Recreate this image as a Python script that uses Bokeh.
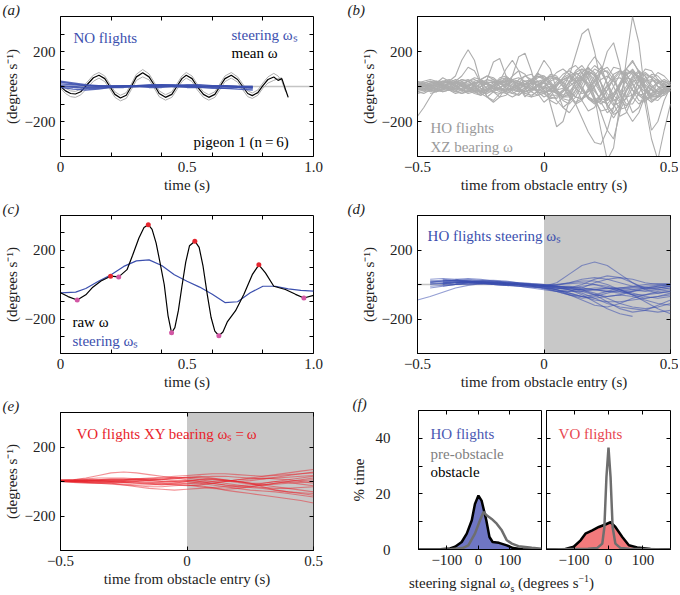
import numpy as np
from bokeh.plotting import figure
from bokeh.models import (Range1d, FixedTicker, Label, BoxAnnotation, Span, Div,
                          LinearAxis, CustomJSTickFormatter)
from bokeh.layouts import row, column
from bokeh.embed import file_html
from bokeh.resources import INLINE

N = np.nan
FONT = "Liberation Serif"
FS = "15px"

# ---------------- (a) NO flights, pigeon 1 ----------------
A_T = [0, 0.02, 0.04, 0.059, 0.08, 0.105, 0.13, 0.152, 0.175, 0.195,
       0.215, 0.237, 0.26, 0.28, 0.30, 0.325, 0.35, 0.37, 0.39, 0.415,
       0.44, 0.46, 0.48, 0.497, 0.52, 0.54, 0.565, 0.586, 0.61, 0.63,
       0.65, 0.675, 0.70, 0.72, 0.74, 0.758, 0.78, 0.80, 0.82, 0.843,
       0.86, 0.875, 0.89, 0.90]
A_MEAN = [0, -25, -40, -43, -30, 10, 50, 64, 45, 0,
          -45, -66, -50, 0, 55, 78, 55, 10, -40, -62,
          -45, 0, 45, 64, 45, 0, -45, -62, -45, 0,
          45, 64, 40, 0, -40, -52, -35, 5, 40, 54,
          35, 45, -20, -62]
A_UPPER = [10, -10, -25, -28, -15, 25, 65, 80, 60, 15,
           -30, -50, -35, 15, 70, 97, 72, 25, -25, -47,
           -30, 15, 60, 80, 60, 15, -30, -47, -30, 15,
           60, 80, 55, 15, -25, -37, -20, 20, 55, 75,
           60, 30, -30, N]
A_LOWER = [-10, -40, -58, -62, -48, -10, 30, 48, 28, -15,
           -62, -82, -68, -18, 35, 55, 38, -8, -58, -78,
           -62, -18, 28, 48, 28, -18, -62, -78, -62, -18,
           28, 48, 25, -18, -58, -68, -50, -10, 20, 35,
           45, 50, N, N]
A_BLUE_T = [0, 0.05, 0.1, 0.15, 0.2, 0.25, 0.3, 0.35, 0.4, 0.45, 0.5, 0.55, 0.6, 0.65, 0.7, 0.76]
A_BLUE = [
    [25, 15, 5, 0, -5, -5, 0, 5, 5, 0, -5, -5, 0, 5, 0, -5],
    [15, 10, 5, 5, 5, 5, 5, 5, 10, 10, 5, 5, 0, 0, 0, 0],
    [-5, -15, -20, -15, -5, 0, 5, 10, 10, 5, 0, -5, -10, -10, -5, -5],
    [5, 0, -5, -5, 0, 5, 5, 0, 0, 5, 10, 10, 5, 0, -5, -10],
    [30, 20, 10, 5, 0, 0, 0, 5, 5, 0, 0, 0, 5, 5, 0, 0],
    [0, -5, -10, -10, -5, 0, 0, -5, -5, 0, 5, 0, -5, -10, -15, -20],
]

# ---------------- (b) HO flights XZ bearing ----------------
B_T = [-0.5, -0.475, -0.45, -0.425, -0.4, -0.375, -0.35, -0.325, -0.3, -0.275,
       -0.25, -0.225, -0.2, -0.175, -0.15, -0.125, -0.1, -0.075, -0.05, -0.025,
       0, 0.025, 0.05, 0.075, 0.1, 0.125, 0.15, 0.175, 0.2, 0.225,
       0.25, 0.275, 0.3, 0.325, 0.35, 0.375, 0.4, 0.425, 0.45, 0.475, 0.5]
B_LINES = [
    [0, 10, 20, 15, 0, -15, -20, -10, 5, 20, 25, 15, 0, -15, -20, -10, 5, 15, 20, 10,
     0, -20, -40, -30, 0, 30, 40, 10, -60, -150, -250, -300, -150, 150, 400, 250, -50, -250, -200, -80, 0],
    [-20, -10, 0, 10, 20, 25, 20, 5, -10, -25, -30, -20, 0, 20, 35, 30, 15, 0, -15, -20,
     -10, 0, -20, -10, 60, 180, 300, 330, 200, 20, -120, -180, -120, -30, 30, 40, 10, -20, -30, -10, 10],
    [-30, -40, -20, 20, 50, 30, 60, 150, 210, 150, 20, -60, -80, -40, 10, 30, 20, 0, -10, -20,
     -30, -20, 10, 50, 70, 40, -20, -70, -90, -50, 0, 40, 50, 20, -20, -50, -40, -10, 20, 30, 10],
    [0, 5, 10, 0, -10, -20, -10, 10, 30, 40, 20, -10, -30, -40, -30, 60, 170, 190, 90, -40,
     -90, -60, 0, 40, 60, 30, -20, -70, -100, -80, -20, 50, 90, 70, 10, -50, -80, -60, -20, 10, 20],
    [20, 15, 0, -20, -30, -20, 0, 20, 30, 10, -40, 40, 140, 160, 60, -30, -50, -20, 10, 30,
     20, -10, -40, -60, -40, 20, 80, 110, 70, -20, -110, -150, -100, -20, 40, 60, 30, -20, -40, -20, 0],
    [-10, 0, 10, 20, 10, -10, -20, -10, 0, 20, 30, 20, 0, -20, -30, -10, 10, 30, 40, 20,
     -30, -80, -100, -60, 10, 80, 100, 50, -60, -250, -420, -350, -100, 100, 150, 80, -20, -80, -60, -20, 0],
    [10, 20, 30, 20, 0, -20, -30, -20, 0, 20, 30, 20, 0, -10, -20, -10, 0, 10, 20, 30,
     40, 20, -20, -50, -30, 20, 60, 80, 40, -30, -80, -60, 0, 60, 100, 50, -100, -300, -420, -250, -100],
    [-5, 0, 5, 10, 5, 0, -10, -15, -10, 0, 10, 20, 25, 20, 10, -10, -30, -20, 30, 80,
     40, -100, -230, -200, -80, 40, 100, 80, 20, -40, -70, -40, 10, 50, 40, 0, -30, -40, -20, 0, 10],
    [0, -10, -20, -10, 0, 15, 25, 20, 0, -20, -25, -10, 10, 25, 20, 0, -20, -30, -15, 10,
     30, 50, 40, 0, -30, -60, -70, -50, 0, 80, 200, 250, 120, -60, -150, -120, -30, 30, 40, 10, -10],
    [-170, -120, -60, -10, 20, 30, 10, -20, -30, -10, 20, 40, 30, 0, -30, -40, -20, 10, 40, 60,
     40, -20, -80, -120, -90, -20, 50, 90, 60, -20, -100, -160, -140, -60, 20, 60, 40, 0, -30, -20, 0],
    [30, 20, 0, -20, -20, 0, 20, 40, 30, 0, -30, -40, -20, 20, 50, 40, 0, -60, -20, 80,
     150, 100, -20, -120, -150, -100, -20, 60, 100, 80, 20, -50, -90, -70, -10, 50, 80, 50, 0, -30, -20],
    [-20, -20, -10, 10, 30, 40, 30, 60, 110, 90, 20, -60, -90, -60, 0, 40, 50, 30, 0, -30,
     -40, -20, 20, 40, 30, -10, -40, -30, 0, 40, 60, 30, -20, -60, -50, -10, 30, 40, 20, 0, -10],
    [10, 0, -10, -20, -30, -20, 0, 30, 40, 20, -10, -30, -30, -10, 20, 60, 90, 70, 20, -30,
     -60, -40, 0, 50, 100, 120, 80, 0, -80, -140, -130, -60, 20, 100, 140, 90, 0, -60, -60, -30, -10],
    [0, 10, 20, 30, 30, 20, 0, -20, -30, -30, -20, 0, 20, 30, 20, 0, -20, -30, -20, 0,
     30, 60, 50, 0, -60, -100, -80, -20, 40, 90, 110, 60, -40, -140, -200, -150, -50, 40, 80, 60, 20],
    [N, N, -40, -30, -10, 10, 20, 10, -10, -30, -40, -20, 10, 40, 50, 30, -10, -40, -50, -30,
     0, 40, 80, 100, 70, 0, -80, -140, -120, -40, 50, 110, 100, 30, -60, -100, -70, -10, 30, 30, 10],
    [-40, -30, -20, 0, 20, 30, 20, 0, -20, -40, -50, -30, 0, 30, 40, 20, -10, -40, -30, 0,
     20, 10, -30, -70, -80, -40, 30, 120, 170, 120, 10, -100, -170, -150, -60, 40, 100, 90, 40, -10, -30],
    [20, 30, 40, 30, 10, -10, -30, -40, -20, 10, 40, 60, 40, 0, -40, -60, -40, 0, 40, 70,
     60, 20, -30, -60, -50, 0, 60, 100, 80, 20, -60, -110, -90, -20, 50, 80, 60, 10, -30, -40, -20],
    [-10, -20, -30, -20, 0, 20, 30, 20, 0, -20, -30, -20, 0, 20, 30, 10, -10, -30, -20, 10,
     40, 60, 50, 20, -30, -100, -180, -260, -320, -330, -250, -120, 0, 80, 90, 40, -20, -50, -40, -10, 10],
    [0, -10, -10, 0, 10, 20, 20, 10, 0, -10, -20, -20, -10, 10, 30, 40, 30, 0, -30, -50,
     -40, -10, 30, 70, 90, 60, 0, -60, -90, -70, -20, 40, 80, 70, 20, -40, -70, -50, -10, 20, 30],
    [10, 10, 0, -10, -20, -20, -10, 10, 30, 50, 40, 10, -30, -60, -50, -10, 40, 60, 40, 0,
     -40, -70, -60, -20, 30, 70, 80, 40, -20, -80, -100, -60, 10, 70, 90, 50, -20, -70, -80, -40, 0],
    [0, -10, -20, -30, -20, 0, 20, 40, 30, 0, -40, -60, -30, 30, 100, 150, 90, -10, -60, -50,
     -10, 30, 50, 30, -20, -60, -70, -30, 30, 80, 90, 40, -40, -100, -100, -40, 30, 70, 60, 20, -10],
    [-20, 0, 20, 30, 20, 0, -20, -40, -30, 0, 40, 60, 50, 20, -10, -20, -10, 10, 20, 10,
     -10, -30, -20, 20, 60, 80, 50, -10, -70, -100, -70, 0, 70, 100, 70, 0, -60, -90, -60, -10, 20],
    [0, 20, 30, 20, 0, -20, -40, -30, 0, 30, 40, 20, -10, -30, -40, -20, 20, 60, 70, 30,
     -20, -60, -70, -30, 30, 90, 120, 70, -10, -90, -150, -120, -40, 40, 80, 60, 0, -50, -60, -30, 0],
    [-10, -20, -10, 10, 30, 30, 10, -20, -40, -30, 0, 30, 40, 20, -10, -40, -50, -20, 30, 60,
     50, 10, -40, -80, -100, -60, 10, 80, 120, 90, 20, -70, -130, -120, -50, 30, 70, 50, 0, -30, -10],
    [20, 0, -20, -30, -10, 20, 40, 30, 0, -30, -50, -30, 10, 50, 60, 30, -10, -50, -60, -20,
     30, 70, 60, 10, -50, -90, -70, -10, 60, 110, 80, 0, -80, -110, -70, 0, 50, 60, 30, 0, -20],
    [5, 10, 10, 5, -5, -10, -10, 0, 10, 20, 20, 10, -10, -20, -20, -10, 10, 30, 30, 10,
     -20, -50, -50, -20, 20, 50, 50, 20, -30, -70, -80, -40, 20, 70, 80, 40, -20, -60, -50, -10, 10],
    [-30, -20, 0, 20, 30, 20, 0, -20, -30, -20, 0, 20, 30, 20, 0, -20, -30, -10, 20, 50,
     60, 30, -20, -60, -60, -20, 40, 80, 70, 20, -40, -80, -60, 0, 60, 90, 60, -10, -60, -50, -20],
    [15, 5, -5, -15, -15, -5, 5, 15, 15, 5, -10, -20, -20, -5, 15, 30, 30, 15, -10, -30,
     -40, -20, 10, 40, 50, 30, -10, -60, -80, -50, 10, 70, 90, 50, -20, -80, -90, -40, 20, 40, 20],
]

# ---------------- (c) raw vs steering ----------------
C_RAW_T = [0, 0.03, 0.066, 0.1, 0.125, 0.16, 0.198, 0.23, 0.263, 0.285,
           0.31, 0.33, 0.347, 0.362, 0.378, 0.393, 0.41, 0.425, 0.439, 0.452,
           0.466, 0.48, 0.495, 0.51, 0.531, 0.548, 0.563, 0.58, 0.595, 0.61,
           0.626, 0.642, 0.66, 0.692, 0.725, 0.758, 0.784, 0.81, 0.843, 0.889,
           0.929, 0.962, 1.0]
C_RAW = [-48, -70, -90, -60, -19, 20, 48, 44, 86, 170,
         270, 330, 347, 320, 240, 130, 0, -180, -280, -250,
         -150, -10, 130, 225, 251, 215, 110, -57, -190, -270,
         -297, -275, -215, -152, -57, 57, 114, 67, -10, -29,
         -57, -78, -63]
C_STEER_T = [0, 0.06, 0.1, 0.15, 0.2, 0.25, 0.3, 0.35, 0.4, 0.45, 0.5,
             0.55, 0.6, 0.65, 0.7, 0.75, 0.8, 0.85, 0.9, 0.95, 1.0]
C_STEER = [-48, -44, -23, 19, 57, 105, 137, 143, 110, 57, 19,
           -15, -57, -105, -100, -48, -10, -10, -25, -34, -38]
C_PEAK_T = [0.198, 0.347, 0.531, 0.784]
C_PEAK = [48, 347, 251, 114]
C_TROUGH_T = [0.066, 0.23, 0.439, 0.626, 0.962]
C_TROUGH = [-90, 44, -280, -297, -78]

# ---------------- (d) HO flights steering ----------------
D_T = [-0.5, -0.45, -0.4, -0.35, -0.3, -0.25, -0.2, -0.15, -0.1, -0.05, 0,
       0.05, 0.1, 0.15, 0.2, 0.25, 0.3, 0.35, 0.4, 0.45, 0.5]
D_LINES = [
    [N, 10, 20, 25, 20, 15, 10, 5, 0, -10, -20, -40, -60, -70, -60, -40, -20, -10, 0, 5, 5],
    [-90, -70, -45, -20, -5, 5, 10, 5, 0, -5, -10, -15, -30, -60, -100, -140, -170, -185, N, N, N],
    [N, N, 20, 25, 30, 25, 15, 10, 5, 0, -10, 10, 60, 110, 130, 110, 60, 10, -30, -50, -40],
    [N, 30, 35, 30, 20, 10, 0, -5, -5, -10, -15, -20, -30, -50, -80, -110, -130, -140, -150, -160, -150],
    [N, N, 0, 10, 15, 15, 10, 5, 0, -5, -5, -10, -10, -20, -30, -40, -50, -40, -30, -20, -10],
    [N, 20, 15, 10, 10, 5, 5, 0, -5, -10, -20, -30, -40, -40, -30, -20, -20, -30, -40, -30, -20],
    [N, N, N, 10, 15, 20, 20, 15, 10, 0, -10, -20, -20, 0, 30, 50, 40, 10, -20, -30, -20],
    [N, -20, -10, 0, 5, 5, 0, -5, -10, -20, -30, -40, -60, -90, -120, -130, -110, -80, -60, -40, -30],
    [N, N, 10, 15, 20, 25, 25, 20, 10, 5, 0, -10, -20, -30, -50, -80, -110, -130, -140, -130, -110],
    [N, 5, 10, 15, 15, 10, 5, 0, 0, -5, -10, -5, 10, 30, 40, 30, 10, -10, -20, -20, -10],
    [N, N, 25, 20, 15, 10, 5, 5, 0, -5, -15, -30, -50, -70, -80, -70, -60, -70, -90, -110, -120],
    [N, 10, 5, 0, 0, 5, 10, 10, 5, 0, -5, -10, -20, -40, -60, -70, -60, -40, -20, -10, 0],
    [N, N, N, 30, 35, 30, 20, 10, 0, -5, -10, -20, -30, -30, -20, -20, -30, -50, -70, -80, -70],
    [N, 15, 20, 20, 15, 10, 5, 0, -10, -15, -20, -25, -20, -10, 0, -10, -30, -60, -100, -140, -170],
    [N, N, 5, 10, 15, 15, 10, 5, 5, 0, -5, -10, -15, -30, -60, -100, -140, -160, -150, -120, -90],
    [N, -10, -5, 0, 10, 15, 15, 10, 5, 0, -5, -15, -25, -30, -30, -25, -20, -15, -10, -5, 0],
    [N, N, 15, 20, 20, 15, 10, 5, 0, -10, -25, -40, -40, -20, 10, 30, 40, 30, 10, 0, 0],
    [N, 0, 5, 10, 10, 5, 0, -5, -10, -15, -20, -30, -50, -70, -90, -100, -100, -90, -80, -70, -60],
    [N, N, 30, 25, 20, 20, 20, 15, 10, 5, 0, 0, 5, 10, 0, -20, -40, -60, -60, -50, -40],
    [N, N, N, 5, 10, 10, 5, 0, 0, -5, -10, -10, -15, -20, -30, -40, -40, -30, -20, -10, -5],
    [N, 20, 25, 25, 20, 15, 10, 5, 0, -5, -5, 0, 10, 20, 20, 0, -30, -60, -80, -70, -50],
    [N, N, -10, 0, 10, 15, 15, 10, 5, 0, -10, -30, -60, -80, -70, -50, -30, -20, -20, -20, -10],
]

# ---------------- (e) VO flights XY bearing ----------------
E_T = D_T
E_LINES = [
    [5, 10, 20, 35, 50, 55, 50, 40, 30, 20, 10, 0, -10, -20, -30, -30, -20, -10, 0, 10, 20],
    [0, 0, -5, -10, -15, -20, -25, -30, -30, -25, -20, -25, -35, -50, -60, -70, -80, -90, -100, -110, -125],
    [5, 5, 5, 5, 10, 10, 15, 20, 25, 30, 35, 40, 45, 45, 40, 35, 30, 40, 50, 60, 70],
    [0, -5, -5, -10, -10, -15, -20, -20, -15, -10, 0, 10, 15, 10, 0, -10, -20, -30, -40, -50, -60],
    [10, 10, 10, 5, 5, 0, 0, 5, 10, 20, 25, 30, 20, 10, 0, -10, -10, 0, 10, 20, 30],
    [0, 0, 0, -5, -10, -20, -30, -40, -45, -50, -45, -40, -35, -30, -30, -35, -40, -50, -60, -70, -80],
    [5, 5, 10, 10, 15, 15, 10, 5, 0, -5, -10, -15, -10, 0, 10, 20, 30, 35, 40, 45, 50],
    [0, 0, -5, -5, 0, 5, 10, 15, 20, 25, 20, 10, 0, -10, -20, -30, -35, -40, -40, -35, -30],
    [5, 5, 0, 0, 0, -5, -5, -10, -15, -20, -25, -20, -10, 0, 10, 15, 20, 15, 10, 0, -10],
    [0, 5, 5, 10, 10, 10, 15, 15, 10, 5, 0, -10, -20, -30, -40, -50, -55, -60, -70, -80, -90],
    [10, 10, 15, 20, 20, 20, 15, 10, 10, 15, 20, 25, 30, 30, 25, 20, 15, 20, 25, 30, 35],
    [0, 0, 0, 0, -5, -5, -10, -10, -5, 0, 5, 0, -10, -20, -25, -20, -10, 0, -5, -15, -25],
    [5, 5, 5, 10, 10, 5, 0, -5, -10, -15, -20, -30, -40, -45, -40, -30, -20, -10, 0, 5, 10],
    [0, -5, -10, -10, -5, 0, 5, 10, 15, 20, 25, 20, 15, 5, 0, 5, 15, 25, 35, 45, 55],
    [5, 5, 10, 5, 0, -5, -10, -15, -20, -15, -10, -5, 0, 5, 0, -10, -30, -50, -60, -65, -70],
    [0, 0, 5, 5, 5, 10, 10, 5, 0, 0, 5, 10, 10, 5, -5, -15, -20, -15, -10, -5, 0],
]

# ---------------- (f) histograms (% time) ----------------
F_HO_OBS_X = [-190, -120, -90, -74, -53, -37, -21, -11, 0, 10, 25, 35, 45, 65, 90, 110, 140, 200]
F_HO_OBS_Y = [0, 0.1, 0.4, 1.0, 2.7, 5.7, 10.5, 16.4, 19.4, 17.6, 10.5, 4.5, 2.7, 2.4, 1.5, 0.5, 0.1, 0]
F_HO_PRE_X = [-190, -90, -50, -32, -11, 5, 16, 26, 42, 58, 74, 90, 106, 127, 169, 200]
F_HO_PRE_Y = [0, 0.1, 0.5, 1.5, 5.7, 10.5, 13.5, 12.3, 11.0, 9.3, 6.9, 3.3, 2.1, 1.2, 0.6, 0.3]
F_VO_OBS_X = [-180, -125, -101, -81, -67, -47, -28, -9, 6, 20, 40, 59, 83, 122, 180]
F_VO_OBS_Y = [0, 0.2, 1.0, 3.3, 5.7, 6.9, 8.1, 9.0, 9.8, 8.1, 4.5, 1.5, 0.7, 0.2, 0]
F_VO_PRE_X = [-180, -60, -33, -18, -12, -6, 0, 6, 12, 20, 35, 60, 180]
F_VO_PRE_Y = [0, 0.3, 0.5, 2.1, 8, 26, 36.7, 26, 8, 2.1, 0.5, 0.3, 0]

# ---------------- tick labels ----------------
TIME_TICKS = {0: "0", 0.5: "0.5", 1: "1.0"}
REL_TICKS = {-0.5: "\u22120.5", 0: "0", 0.5: "0.5"}
OMEGA_TICKS = {-200: "\u2212200", 200: "200"}
PCT_TICKS = {0: "0", 20: "20", 40: "40"}
STEER_TICKS = {-100: "\u2212100", 0: "0", 100: "100"}

BLUE = "#3b4fae"
RED = "#e8232b"
GREY = "#adadad"
TXT = "#222222"

YLAB = "(degrees s\u207b\u00b9)"


def make_fig(w, h, xr, yr, ml, mr, mt, mb, letter, letter_offset):
    p = figure(width=w, height=h, x_range=Range1d(*xr), y_range=Range1d(*yr),
               output_backend="svg", toolbar_location=None,
               min_border_left=ml, min_border_right=mr,
               min_border_top=mt, min_border_bottom=mb)
    p.xgrid.visible = False
    p.ygrid.visible = False
    p.outline_line_color = "black"
    p.outline_line_alpha = 1.0
    p.outline_line_width = 1
    p.background_fill_color = "white"
    p.border_fill_color = "white"
    if letter:
        p.title.text = letter
        p.title.align = "left"
        p.title.offset = letter_offset
        p.title.standoff = -2
        p.title.text_font = FONT
        p.title.text_font_size = FS
        p.title.text_font_style = "italic"
        p.title.text_color = TXT
    return p


def style_axis(ax, ticker, overrides, label, standoff=5, label_standoff=2, tick_in=4):
    ax.ticker = ticker
    ax.major_label_overrides = overrides
    ax.axis_label = label
    ax.axis_label_text_font = FONT
    ax.axis_label_text_font_size = FS
    ax.axis_label_text_font_style = "normal"
    ax.axis_label_text_color = TXT
    ax.major_label_text_font = FONT
    ax.major_label_text_font_size = FS
    ax.major_label_text_color = TXT
    ax.major_tick_in = tick_in
    ax.major_tick_out = 0
    ax.minor_tick_in = 4
    ax.minor_tick_out = 0
    ax.axis_line_color = "black"
    ax.major_label_standoff = standoff
    ax.axis_label_standoff = label_standoff


def blank_labels(ax):
    ax.formatter = CustomJSTickFormatter(code="return ''")
    ax.major_label_overrides = {}
    ax.major_label_text_font_size = "0px"
    ax.major_label_standoff = 0


def mirror(p, xticker, yticker):
    for loc, t in (("above", xticker), ("right", yticker)):
        ax = LinearAxis(ticker=t)
        blank_labels(ax)
        ax.major_tick_in = 4
        ax.major_tick_out = 0
        ax.minor_tick_in = 4
        ax.minor_tick_out = 0
        ax.axis_line_color = None
        p.add_layout(ax, loc)


def txt(p, x, y, s, color="black", style="normal", size=FS):
    p.add_layout(Label(x=x, y=y, text=s, text_color=color, text_font=FONT,
                       text_font_size=size, text_font_style=style,
                       text_align="left", text_baseline="alphabetic"))


def time_axes(p, xlabel):
    xt = FixedTicker(ticks=[0, 0.5, 1.0], minor_ticks=[0.2, 0.4, 0.6, 0.8])
    yt = FixedTicker(ticks=[-200, 200], minor_ticks=[-300, -100, 0, 100, 300])
    style_axis(p.xaxis[0], xt, TIME_TICKS, xlabel, tick_in=0)
    style_axis(p.yaxis[0], yt, OMEGA_TICKS, YLAB)
    mirror(p, FixedTicker(ticks=[], minor_ticks=[0.2, 0.4, 0.6, 0.8]), yt)


def rel_axes(p):
    xt = FixedTicker(ticks=[-0.5, 0, 0.5])
    yt = FixedTicker(ticks=[-200, 200], minor_ticks=[0])
    style_axis(p.xaxis[0], xt, REL_TICKS, "time from obstacle entry (s)")
    style_axis(p.yaxis[0], yt, OMEGA_TICKS, YLAB)
    mirror(p, xt, yt)


# ---------------- panel (a) ----------------
pa = make_fig(340, 196, (0, 1), (-400, 400), 60, 27, 15, 40, "(a)", -58)
time_axes(pa, "time (s)")
pa.add_layout(Span(location=0, dimension="width", line_color="#c4c4c4", line_width=1.5, level="underlay"))
pa.line(A_T, A_UPPER, line_color=GREY, line_width=1)
pa.line(A_T, A_LOWER, line_color=GREY, line_width=1)
pa.line(A_T, A_MEAN, line_color="black", line_width=1.2)
pa.multi_line([A_BLUE_T] * len(A_BLUE), A_BLUE, line_color=BLUE, line_width=1.5, line_alpha=0.85)
txt(pa, 0.051, 275, "NO flights", BLUE)
txt(pa, 0.676, 292, "steering \u03c9\u209b", BLUE)
txt(pa, 0.676, 190, "mean \u03c9", "black")
txt(pa, 0.526, -315, "pigeon 1 (n\u2009=\u20096)", "black")

# ---------------- panel (b) ----------------
pb = make_fig(338, 196, (-0.5, 0.5), (-400, 400), 77, 8, 16, 40, "(b)", -70)
rel_axes(pb)
pb.multi_line([B_T[:len(v)] for v in B_LINES], B_LINES, line_color=GREY, line_width=1.1)
txt(pb, -0.449, -235, "HO flights", "#9a9a9a")
txt(pb, -0.449, -343, "XZ bearing \u03c9", "#9a9a9a")

# ---------------- panel (c) ----------------
pc = make_fig(340, 196, (0, 1), (-400, 400), 60, 27, 18, 39, "(c)", -58)
time_axes(pc, "time (s)")
pc.line(C_STEER_T, C_STEER, line_color=BLUE, line_width=1.2)
pc.line(C_RAW_T, C_RAW, line_color="black", line_width=1.2)
pc.scatter(C_PEAK_T, C_PEAK, size=5, fill_color="#e5262f", line_color=None)
pc.scatter(C_TROUGH_T, C_TROUGH, size=5, fill_color="#d257a4", line_color=None)
txt(pc, 0.047, -216, "raw \u03c9", "black")
txt(pc, 0.047, -325, "steering \u03c9\u209b", BLUE)

# ---------------- panel (d) ----------------
pd_ = make_fig(338, 196, (-0.5, 0.5), (-400, 400), 77, 8, 19, 39, "(d)", -70)
rel_axes(pd_)
pd_.add_layout(BoxAnnotation(left=0, right=0.5, fill_color="#c8c8c8", fill_alpha=1.0,
                             line_color=None, level="underlay"))
pd_.add_layout(Span(location=0, dimension="width", line_color="#c4c4c4", line_width=1.5, level="underlay"))
pd_.multi_line([D_T] * len(D_LINES), D_LINES, line_color=BLUE, line_width=1.1, line_alpha=0.55)
txt(pd_, -0.46, 279, "HO flights steering \u03c9\u209b", BLUE)

# ---------------- panel (e) ----------------
pe = make_fig(340, 202, (-0.5, 0.5), (-400, 400), 60, 27, 20, 44, "(e)", -58)
rel_axes(pe)
pe.add_layout(BoxAnnotation(left=0, right=0.5, fill_color="#c8c8c8", fill_alpha=1.0,
                            line_color=None, level="underlay"))
pe.multi_line([E_T] * len(E_LINES), E_LINES, line_color=RED, line_width=1.1, line_alpha=0.5)
txt(pe, -0.437, 273, "VO flights XY bearing \u03c9\u209b\u2009=\u2009\u03c9", RED)

# ---------------- panel (f) ----------------
pf1 = make_fig(203, 178, (-190, 200), (0, 50), 78, 2, 18, 21, "(f)", -66)
fx = FixedTicker(ticks=[-100, 0, 100])
fy = FixedTicker(ticks=[0, 20, 40], minor_ticks=[10, 30])
style_axis(pf1.xaxis[0], fx, STEER_TICKS, None)
style_axis(pf1.yaxis[0], fy, PCT_TICKS, "% time", standoff=28, label_standoff=6)
mirror(pf1, fx, fy)
pf1.varea(x=F_HO_OBS_X, y1=0, y2=F_HO_OBS_Y, fill_color="#6f76c4", fill_alpha=1.0)
pf1.line(F_HO_OBS_X, F_HO_OBS_Y, line_color="black", line_width=2.5)
pf1.line(F_HO_PRE_X, F_HO_PRE_Y, line_color="#6e6e6e", line_width=2.5)
txt(pf1, -152, 41.4, "HO flights", "#4a57b2")
txt(pf1, -152, 34.5, "pre-obstacle", "#808080")
txt(pf1, -152, 28, "obstacle", "black")

pf2 = make_fig(135, 178, (-180, 180), (0, 50), 3, 8, 18, 21, None, 0)
style_axis(pf2.xaxis[0], fx, STEER_TICKS, None)
style_axis(pf2.yaxis[0], fy, PCT_TICKS, None, standoff=0)
blank_labels(pf2.yaxis[0])
mirror(pf2, fx, fy)
pf2.varea(x=F_VO_OBS_X, y1=0, y2=F_VO_OBS_Y, fill_color="#f27a7c", fill_alpha=1.0)
pf2.line(F_VO_OBS_X, F_VO_OBS_Y, line_color="black", line_width=2.5)
pf2.line(F_VO_PRE_X, F_VO_PRE_Y, line_color="#6e6e6e", line_width=2.5)
txt(pf2, -145, 41.4, "VO flights", "#e8474f")

fdiv = Div(text='<div style="margin-left:64px;margin-top:0px;text-align:center;font-family:\'Liberation Serif\';'
                'font-size:15px;line-height:16px;white-space:nowrap;color:#222222;">steering signal '
                '<i>\u03c9</i><sub style="font-size:10px;line-height:0">s</sub> (degrees s'
                '<sup style="font-size:10px;line-height:0">\u22121</sup>)</div>',
           width=338, height=24)

layout = column(
    row(pa, pb),
    row(pc, pd_),
    row(pe, column(row(pf1, pf2), fdiv)),
)

open("out.html", "w").write(file_html(layout, INLINE))
